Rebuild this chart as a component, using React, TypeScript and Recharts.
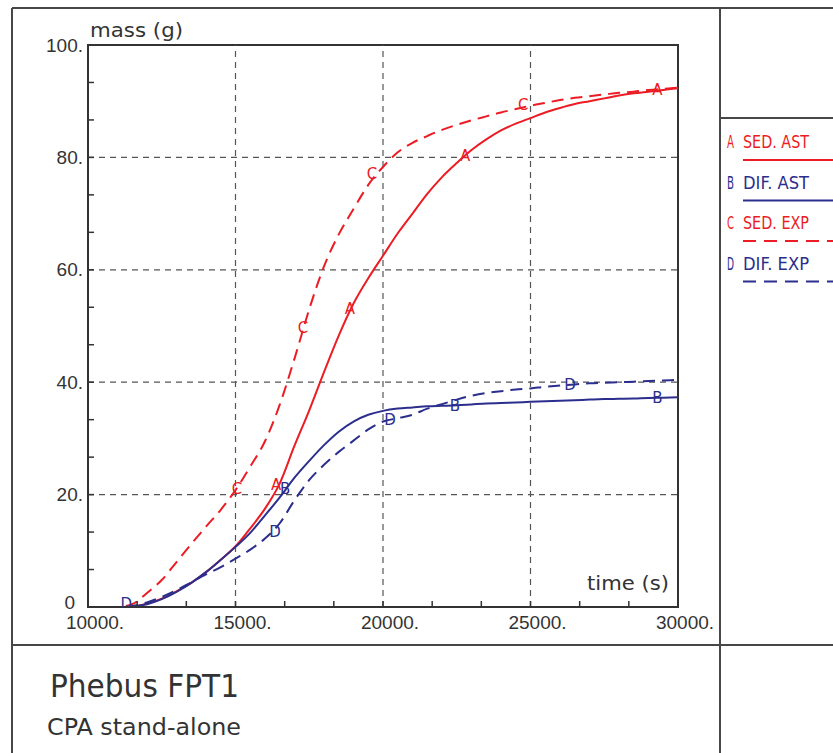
import {
  ComposedChart,
  Line,
  Scatter,
  XAxis,
  YAxis,
  ReferenceLine,
  ReferenceArea,
} from "recharts";

// time axis (s)
const times = [
  10000, 10500, 11000, 11500, 12000, 12500, 13000, 13500, 14000, 14500,
  15000, 15500, 16000, 16500, 17000, 17500, 18000, 18500, 19000, 19500,
  20000, 20500, 21000, 21500, 22000, 22500, 23000, 23500, 24000, 24500,
  25000, 25500, 26000, 26500, 27000, 27500, 28000, 28500, 29000, 29500, 30000,
];

// mass (g) per series
const sedAst = [
  0, 0, 0, 0.1, 0.6, 1.5, 2.8, 4.3, 6.2, 8.4,
  10.8, 14, 17.5, 22, 28.7, 35, 41.8, 48.3, 54, 58.5,
  62.5, 66.5, 70, 73.5, 76.5, 79, 81.3, 83.2, 84.8, 86,
  87, 88, 88.8, 89.5, 90, 90.5, 91, 91.4, 91.7, 92, 92.3,
];
const difAst = [
  0, 0, 0, 0.1, 0.5, 1.4, 2.7, 4.3, 6.2, 8.4,
  10.7, 13.2, 16.3, 19.5, 23, 26, 28.8, 31.2, 33, 34.2,
  34.9, 35.3, 35.5, 35.7, 35.8, 35.9, 36.05, 36.2, 36.3, 36.4,
  36.5, 36.6, 36.7, 36.8, 36.9, 37, 37.05, 37.1, 37.2, 37.25, 37.3,
];
const sedExp = [
  0, 0, 0, 0.5, 2.5, 4.8, 8, 11.2, 14.3, 17.3,
  20.8, 25, 29.5, 36, 44.2, 53, 60.6, 66.3, 70.8, 75.1,
  78.3, 80.9, 82.6, 83.8, 84.9, 85.8, 86.6, 87.3, 88, 88.6,
  89.2, 89.7, 90.2, 90.6, 90.9, 91.2, 91.5, 91.7, 92, 92.2, 92.4,
];
const difExp = [
  0, 0, 0, 0.2, 0.8, 1.8, 3, 4.4, 5.8, 7.1,
  8.6, 10.2, 12.2, 14.9, 19, 22.6, 25.3, 27.6, 29.6, 31.6,
  33, 33.6, 34.2, 35.3, 36.1, 36.9, 37.6, 38.1, 38.4, 38.7,
  38.9, 39.2, 39.4, 39.6, 39.8, 39.9, 40, 40.1, 40.2, 40.3, 40.4,
];

// letter markers along each curve: [time, mass]
const marksA = [[16380, 21.7], [18880, 53], [22780, 80.3], [29300, 92]];
const marksB = [[16680, 21], [22440, 35.7], [29300, 37.2]];
const marksC = [[15050, 21], [17290, 49.6], [19630, 77], [24750, 89.3]];
const marksD = [[11300, 0.5], [16340, 13.4], [20240, 33.3], [26340, 39.5]];

const xTicks = [10000, 11667, 13333, 15000, 16667, 18333, 20000, 21667, 23333, 25000, 26667, 28333, 30000];
const xMajor = [10000, 15000, 20000, 25000, 30000];
const yTicks = [0, 6.667, 13.333, 20, 26.667, 33.333, 40, 46.667, 53.333, 60, 66.667, 73.333, 80, 86.667, 93.333, 100];
const yMajor = [0, 20, 40, 60, 80, 100];
const xGrid = [15000, 20000, 25000];
const yGrid = [20, 40, 60, 80];

const RED = "#ec1c24";
const BLUE = "#2b2e8c";

const series = [
  { letter: "A", name: "SED. AST", color: RED, dashed: false, values: sedAst, marks: marksA },
  { letter: "B", name: "DIF. AST", color: BLUE, dashed: false, values: difAst, marks: marksB },
  { letter: "C", name: "SED. EXP", color: RED, dashed: true, values: sedExp, marks: marksC },
  { letter: "D", name: "DIF. EXP", color: BLUE, dashed: true, values: difExp, marks: marksD },
];

const tickFont = "'Liberation Sans', Arial, sans-serif";
const plainFont = "'DejaVu Sans', sans-serif";

function XTick(props: any) {
  const { x, y, payload } = props;
  const major = xMajor.includes(payload.value);
  return (
    <g>
      <line x1={x} y1={y} x2={x} y2={y - 6} stroke="#333" strokeWidth={1.5} />
      {major && (
        <text x={x + 7} y={y + 15} textAnchor="middle" dominantBaseline="central" fontSize={19} fontFamily={tickFont} fill="#333">
          {payload.value + "."}
        </text>
      )}
    </g>
  );
}

function YTick(props: any) {
  const { x, y, payload } = props;
  const major = yMajor.includes(payload.value);
  const zero = payload.value === 0;
  return (
    <g>
      <line x1={x} y1={y} x2={x + 6} y2={y} stroke="#333" strokeWidth={1.5} />
      {major && (
        <text x={zero ? x - 13 : x - 5} y={zero ? y - 5 : y} textAnchor="end" dominantBaseline="central" fontSize={19} fontFamily={tickFont} fill="#333">
          {zero ? "0" : payload.value + "."}
        </text>
      )}
    </g>
  );
}

function Frame() {
  return (
    <svg width={833} height={753} style={{ position: "absolute", left: 0, top: 0 }}>
      <g stroke="#474747" strokeWidth={2} fill="none">
        <line x1={12} y1={8} x2={833} y2={8} />
        <line x1={12} y1={8} x2={12} y2={753} />
        <line x1={720} y1={8} x2={720} y2={753} />
        <line x1={12} y1={645} x2={833} y2={645} />
        <line x1={720} y1={118} x2={833} y2={118} />
      </g>
      <text x={90} y={37} fontSize={19} textLength={93} lengthAdjust="spacingAndGlyphs" fontFamily={plainFont} fill="#333">mass (g)</text>
      <text x={587} y={590} fontSize={19} textLength={82} lengthAdjust="spacingAndGlyphs" fontFamily={plainFont} fill="#333">time (s)</text>
      {series.map((s, i) => (
        <g key={s.letter}>
          <text x={727} y={142 + i * 40.5} dominantBaseline="central" fontSize={17} textLength={7} lengthAdjust="spacingAndGlyphs" fontFamily={plainFont} fill={s.color}>{s.letter}</text>
          <text x={743} y={142 + i * 40.5} dominantBaseline="central" fontSize={17} textLength={66} lengthAdjust="spacingAndGlyphs" fontFamily={plainFont} fill={s.color}>{s.name}</text>
          <line x1={743} y1={160 + i * 40.5} x2={833} y2={160 + i * 40.5} stroke={s.color} strokeWidth={2} strokeDasharray={s.dashed ? "13 8" : undefined} />
        </g>
      ))}
      <text x={50} y={697} fontSize={32} textLength={189} lengthAdjust="spacingAndGlyphs" fontFamily={plainFont} fill="#333">Phebus FPT1</text>
      <text x={47} y={735} fontSize={23} textLength={194} lengthAdjust="spacingAndGlyphs" fontFamily={plainFont} fill="#333">CPA stand-alone</text>
    </svg>
  );
}

export default function App() {
  return (
    <div style={{ position: "absolute", left: 0, top: 0, width: 833, height: 753, background: "#fff" }}>
      <Frame />
      <ComposedChart
        width={833}
        height={753}
        margin={{ top: 45, right: 155, bottom: 116, left: 48 }}
        style={{ position: "absolute", left: 0, top: 0 }}
      >
        <XAxis
          dataKey="t"
          type="number"
          domain={[10000, 30000]}
          ticks={xTicks}
          tick={<XTick />}
          tickLine={false}
          tickSize={0}
          tickMargin={0}
          height={30}
          axisLine={{ stroke: "#333", strokeWidth: 2 }}
          allowDataOverflow
          interval={0}
        />
        <YAxis
          type="number"
          domain={[0, 100]}
          ticks={yTicks}
          tick={<YTick />}
          tickLine={false}
          tickSize={0}
          tickMargin={0}
          width={40}
          axisLine={{ stroke: "#333", strokeWidth: 2 }}
          allowDataOverflow
          interval={0}
        />
        {xGrid.map((v) => (
          <ReferenceLine key={"x" + v} x={v} stroke="#555" strokeWidth={1.2} strokeDasharray="6 5" />
        ))}
        {yGrid.map((v) => (
          <ReferenceLine key={"y" + v} y={v} stroke="#555" strokeWidth={1.2} strokeDasharray="6 5" />
        ))}
        <ReferenceArea x1={10000} x2={30000} y1={0} y2={100} fill="none" fillOpacity={0} stroke="#333" strokeWidth={2} />
        {series.map((s) => (
          <Line
            key={s.letter}
            data={times.map((t, i) => ({ t, v: s.values[i] }))}
            dataKey="v"
            type="monotone"
            stroke={s.color}
            strokeWidth={2}
            strokeDasharray={s.dashed ? "12 7" : undefined}
            dot={false}
            activeDot={false}
            isAnimationActive={false}
          />
        ))}
        {series.map((s) => (
          <Scatter
            key={"m" + s.letter}
            data={s.marks.map(([t, v]) => ({ t, v, letter: s.letter }))}
            dataKey="v"
            isAnimationActive={false}
            shape={(p: any) => (
              <text x={p.cx} y={p.cy} textAnchor="middle" dominantBaseline="central" fontSize={15} fontFamily={plainFont} fill={s.color}>
                {p.payload.letter}
              </text>
            )}
          />
        ))}
      </ComposedChart>
    </div>
  );
}
